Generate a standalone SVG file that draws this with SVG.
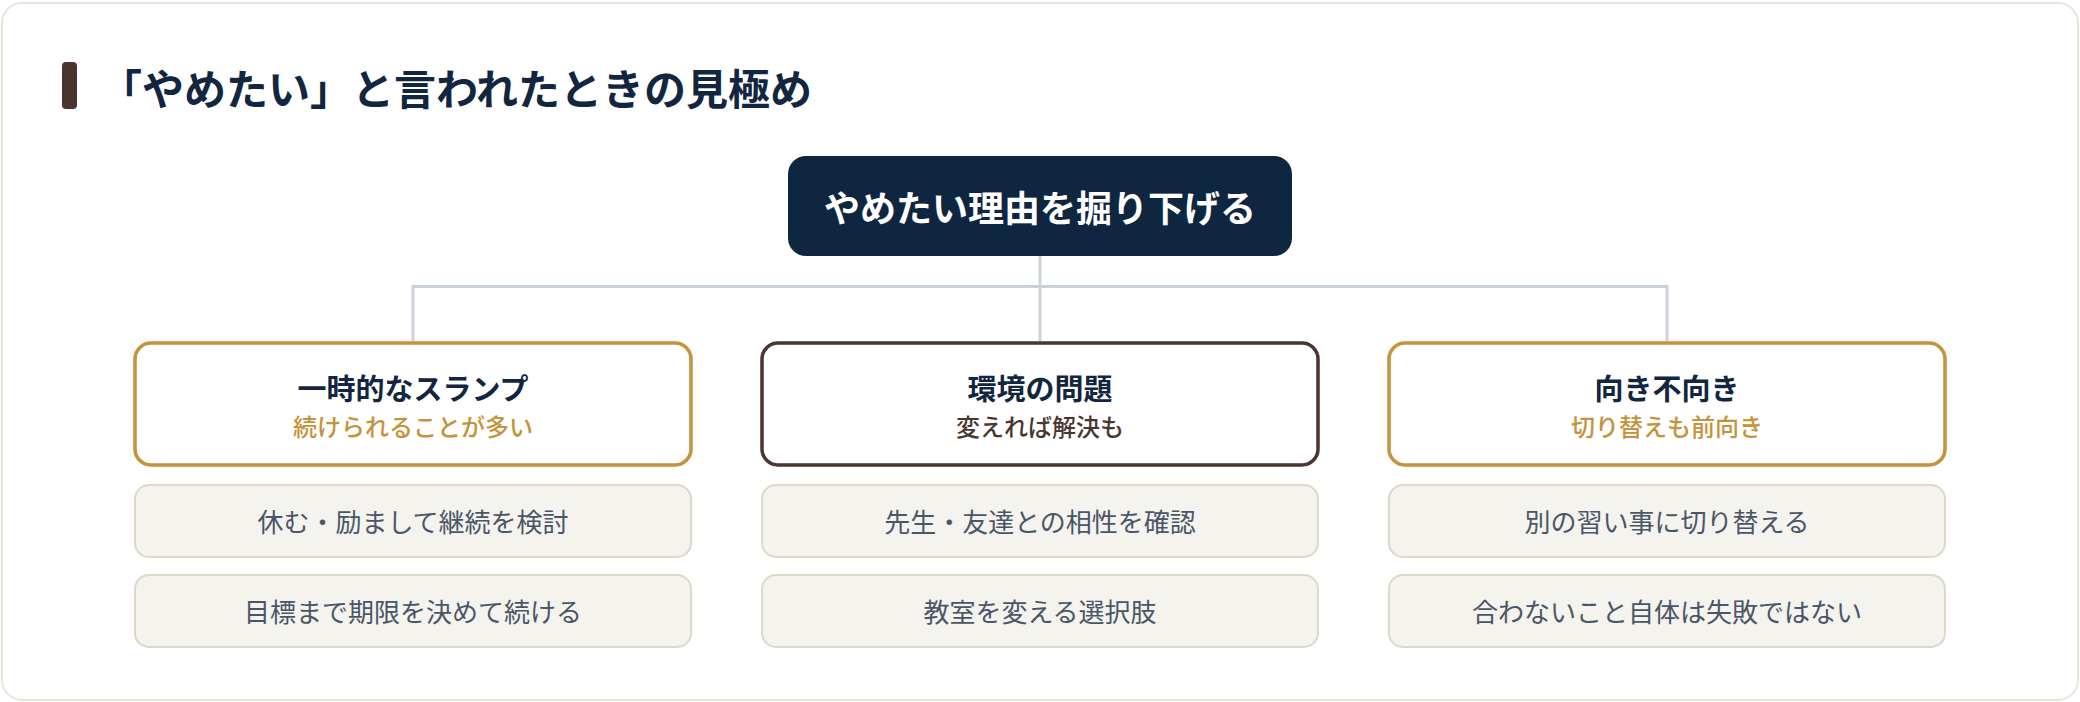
<svg xmlns="http://www.w3.org/2000/svg" width="2080" height="702" viewBox="0 0 2080 702">
<style>
text{font-family:"Noto Sans CJK JP","Noto Sans",sans-serif;}
.ttl{font-size:42px;font-weight:700;fill:#12263f;}
.root{font-size:36px;font-weight:700;fill:#ffffff;text-anchor:middle;}
.cat{fill:#ffffff;stroke-width:3.5;}
.gold{stroke:#c4933a;}
.brown{stroke:#4a352f;}
.ch{font-size:29px;font-weight:700;fill:#12263f;text-anchor:middle;}
.sub{font-size:24px;font-weight:500;text-anchor:middle;}
.sg{fill:#c4933a;}
.sb{fill:#4a352f;}
.item{fill:#f5f3ee;stroke:#ddd8c7;stroke-width:2;}
.it{font-size:26px;font-weight:400;fill:#4a5667;text-anchor:middle;}
.conn{fill:none;stroke:#cbd1da;stroke-width:3;}
</style>
<rect x="2" y="3" width="2076" height="697" rx="20" fill="#ffffff" stroke="#e7e4d9" stroke-width="2"/>
<g id="title">
<rect x="62" y="62" width="15" height="47" rx="4" fill="#4a342e"/>
<text class="ttl" x="100" y="105">「やめたい」と言われたときの見極め</text>
</g>
<g id="connectors">
<path class="conn" d="M1040 256 V286.5 M413 341 V286.5 H1667 V341 M1040 286.5 V341"/>
</g>
<g id="root">
<rect x="788" y="156" width="504" height="100" rx="18" fill="#0f2640"/>
<text class="root" x="1040" y="222">やめたい理由を掘り下げる</text>
</g>
<g id="cat1">
<rect class="cat gold" x="135" y="343" width="556" height="122" rx="16"/>
<text class="ch" x="413" y="400">一時的なスランプ</text>
<text class="sub sg" x="413" y="436">続けられることが多い</text>
</g>
<g id="cat2">
<rect class="cat brown" x="762" y="343" width="556" height="122" rx="16"/>
<text class="ch" x="1040" y="400">環境の問題</text>
<text class="sub sb" x="1040" y="436">変えれば解決も</text>
</g>
<g id="cat3">
<rect class="cat gold" x="1389" y="343" width="556" height="122" rx="16"/>
<text class="ch" x="1667" y="400">向き不向き</text>
<text class="sub sg" x="1667" y="436">切り替えも前向き</text>
</g>
<g id="item1a">
<rect class="item" x="135" y="485" width="556" height="72" rx="14"/>
<text class="it" x="413" y="532">休む・励まして継続を検討</text>
</g>
<g id="item1b">
<rect class="item" x="135" y="575" width="556" height="72" rx="14"/>
<text class="it" x="413" y="622">目標まで期限を決めて続ける</text>
</g>
<g id="item2a">
<rect class="item" x="762" y="485" width="556" height="72" rx="14"/>
<text class="it" x="1040" y="532">先生・友達との相性を確認</text>
</g>
<g id="item2b">
<rect class="item" x="762" y="575" width="556" height="72" rx="14"/>
<text class="it" x="1040" y="622">教室を変える選択肢</text>
</g>
<g id="item3a">
<rect class="item" x="1389" y="485" width="556" height="72" rx="14"/>
<text class="it" x="1667" y="532">別の習い事に切り替える</text>
</g>
<g id="item3b">
<rect class="item" x="1389" y="575" width="556" height="72" rx="14"/>
<text class="it" x="1667" y="622">合わないこと自体は失敗ではない</text>
</g>
</svg>
